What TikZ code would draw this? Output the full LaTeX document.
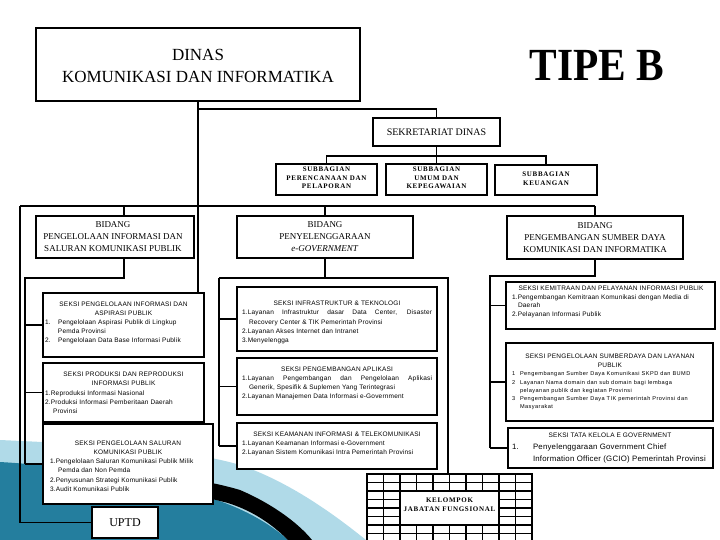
\documentclass[tikz,border=0pt]{standalone}
\usepackage{fontspec}
\setmainfont{Liberation Serif}
\newfontfamily\skf[LetterSpace=3]{Liberation Sans}
\newfontfamily\skfw[LetterSpace=8]{Liberation Sans}
\newfontfamily\sbf[LetterSpace=10]{Liberation Serif}
\definecolor{swl}{RGB}{176,218,232}
\definecolor{swd}{RGB}{36,126,158}
\newcommand{\sktext}[3]{\parbox{#1}{\skf\fontsize{6.5}{#2}\selectfont #3}}
\begin{document}
\begin{tikzpicture}[x=1pt,y=-1pt,
 ln/.style={line width=1.6pt},
 bx/.style={draw, line width=1.6pt, fill=white, inner sep=0pt, outer sep=0pt},
 tx/.style={inner sep=0pt, align=center},
 sbt/.style={tx, font=\sbf\bfseries\fontsize{7}{8.6}\selectfont},
 bdt/.style={tx, font=\fontsize{9}{12}\selectfont},
]
\useasboundingbox (0,0) rectangle (720,540);
\clip (0,0) rectangle (720,540);
% background swoosh
\fill[swl] (0,440) .. controls (110,445) and (190,450) .. (240,465) .. controls (290,482) and (335,515) .. (366,540) -- (0,540) -- cycle;
\fill[swd] (0,462) .. controls (100,468) and (180,485) .. (230,505) .. controls (255,515) and (275,528) .. (288,540) -- (0,540) -- cycle;
\fill[black] (60,478) .. controls (140,470) and (200,478) .. (240,490) .. controls (275,505) and (300,525) .. (312,540) -- (288,540) .. controls (270,522) and (250,510) .. (228,503) .. controls (180,490) and (120,485) .. (60,478) -- cycle;
% top
\node[bx, minimum width=324pt, minimum height=73pt] (dinas) at (198,64.5) {};
\node[tx, font=\fontsize{17}{22}\selectfont] (dinast) at (198,66) {DINAS\\KOMUNIKASI DAN INFORMATIKA};
\node[tx, font=\bfseries\fontsize{46}{46}\selectfont] (tipe) at (597,66) {\scalebox{0.9}[1]{TIPE B}};
\node[bx, minimum width=127pt, minimum height=28pt] (sek) at (436.5,132) {};
\node[tx, font=\fontsize{10}{12}\selectfont] (sekt) at (436.5,132) {SEKRETARIAT DINAS};
\node[bx, minimum width=101pt, minimum height=31pt] (sb1) at (326.5,179.5) {};
\node[sbt] (sb1t) at (326.5,178) {SUBBAGIAN\\PERENCANAAN DAN\\PELAPORAN};
\node[bx, minimum width=101pt, minimum height=31pt] (sb2) at (436.5,179.5) {};
\node[sbt] (sb2t) at (436.5,178) {SUBBAGIAN\\UMUM DAN\\KEPEGAWAIAN};
\node[bx, minimum width=102pt, minimum height=30pt] (sb3) at (546,180) {};
\node[sbt] (sb3t) at (546,179) {SUBBAGIAN\\KEUANGAN};
% bidang
\node[bx, minimum width=158pt, minimum height=42pt] (b1) at (115,237) {};
\node[bdt] (b1t) at (113,237) {BIDANG\\PENGELOLAAN INFORMASI DAN\\SALURAN KOMUNIKASI PUBLIK};
\node[bx, minimum width=176pt, minimum height=42pt] (b2) at (325,237) {};
\node[bdt] (b2t) at (325,237) {BIDANG\\PENYELENGGARAAN\\\textit{e-GOVERNMENT}};
\node[bx, minimum width=176pt, minimum height=43pt] (b3) at (595,237.5) {};
\node[bdt] (b3t) at (595,237.5) {BIDANG\\PENGEMBANGAN SUMBER DAYA\\KOMUNIKASI DAN INFORMATIKA};
% left seksi
\node[bx, minimum width=161pt, minimum height=64pt] (L1) at (123.5,325) {};
\node[tx] (L1t) at (123.5,323) {\sktext{157pt}{9.2}{{\centering SEKSI PENGELOLAAN INFORMASI DAN\\ASPIRASI PUBLIK\par}\raggedright
\makebox[13pt][l]{1.}Pengelolaan Aspirasi Publik di Lingkup\\
\hspace*{13pt}Pemda Provinsi\\
\makebox[13pt][l]{2.}Pengelolaan Data Base Informasi Publik}};
\node[bx, minimum width=161pt, minimum height=59pt] (L2) at (123.5,392.5) {};
\node[tx] (L2t) at (123.5,393) {\sktext{157pt}{9.3}{{\centering SEKSI PRODUKSI DAN REPRODUKSI\\INFORMASI PUBLIK\par}\raggedright
1.Reproduksi Informasi Nasional\\
2.Produksi Informasi Pemberitaan Daerah\\
\hspace*{8pt}Provinsi}};
\node[bx, minimum width=170pt, minimum height=80pt] (L3) at (128,464) {};
\node[tx] (L3t) at (128,466) {\sktext{156pt}{9.2}{{\centering SEKSI PENGELOLAAN SALURAN\\KOMUNIKASI PUBLIK\par}\raggedright
1.Pengelolaan Saluran Komunikasi Publik Milik\\
\hspace*{8pt}Pemda dan Non Pemda\\
2.Penyusunan Strategi Komunikasi Publik\\
3.Audit Komunikasi Publik}};
\node[bx, minimum width=66pt, minimum height=31pt] (uptd) at (125,522.5) {};
\node[tx, font=\fontsize{12}{14}\selectfont] (uptdt) at (125,523) {UPTD};
% middle seksi
\node[bx, minimum width=200pt, minimum height=64pt] (M1) at (337,319) {};
\node[tx] (M1t) at (337,322.5) {\sktext{190pt}{9.3}{{\centering SEKSI INFRASTRUKTUR \& TEKNOLOGI\par}\raggedright
\makebox[\linewidth][s]{1.Layanan Infrastruktur dasar Data Center, Disaster}\\
\hspace*{7pt}Recovery Center \& TIK Pemerintah Provinsi\\
2.Layanan Akses Internet dan Intranet\\
3.Menyelengga}};
\node[bx, minimum width=200pt, minimum height=57pt] (M2) at (337,386.5) {};
\node[tx] (M2t) at (337,383.5) {\sktext{190pt}{9.2}{{\centering SEKSI PENGEMBANGAN APLIKASI\par}\raggedright
\makebox[\linewidth][s]{1.Layanan Pengembangan dan Pengelolaan Aplikasi}\\
\hspace*{7pt}Generik, Spesifik \& Suplemen Yang Terintegrasi\\
2.Layanan Manajemen Data Informasi e-Government}};
\node[bx, minimum width=200pt, minimum height=46pt] (M3) at (337,446) {};
\node[tx] (M3t) at (337,444) {\sktext{190pt}{9.2}{{\centering SEKSI KEAMANAN INFORMASI \& TELEKOMUNIKASI\par}\raggedright
1.Layanan Keamanan Informasi e-Government\\
2.Layanan Sistem Komunikasi Intra Pemerintah Provinsi}};
% kelompok
\node[bx, minimum width=165pt, minimum height=80pt, anchor=north] (kel) at (449.5,474) {};
\foreach \i in {1,...,9} \draw[ln] (367+16.5*\i,474) -- (367+16.5*\i,545);
\foreach \j in {1,...,8} \draw[ln] (367,474+8.5*\j) -- (532,474+8.5*\j);
\node[bx, minimum width=99pt, minimum height=34pt] (kelb) at (449.5,508) {};
\node[sbt] (kelt) at (449.5,505) {KELOMPOK\\JABATAN FUNGSIONAL};
% right seksi
\node[bx, minimum width=209pt, minimum height=47pt] (R1) at (610.5,305.5) {};
\node[tx] (R1t) at (611,302) {\sktext{198pt}{8.8}{{\centering SEKSI KEMITRAAN DAN PELAYANAN INFORMASI PUBLIK\par}\raggedright
1.Pengembangan Kemitraan Komunikasi dengan Media di\\
\hspace*{6pt}Daerah\\
2.Pelayanan Informasi Publik}};
\node[bx, minimum width=207pt, minimum height=78pt] (R2) at (609.5,382) {};
\node[tx] (R2t) at (610,382) {\sktext{196pt}{9}{{\centering SEKSI PENGELOLAAN SUMBERDAYA DAN LAYANAN\\PUBLIK\par}\raggedright
{\skfw\fontsize{5.6}{8.2}\selectfont
\makebox[8pt][l]{1}Pengembangan Sumber Daya Komunikasi SKPD dan BUMD\\
\makebox[8pt][l]{2}Layanan Nama domain dan sub domain bagi lembaga\\
\hspace*{8pt}pelayanan publik dan kegiatan Provinsi\\
\makebox[8pt][l]{3}Pengembangan Sumber Daya TIK pemerintah Provinsi dan\\
\hspace*{8pt}Masyarakat\par}}};
\node[bx, minimum width=205pt, minimum height=40pt] (R3) at (610.5,448) {};
\node[tx] (R3t) at (610,448.5) {\sktext{196pt}{11}{{\centering SEKSI TATA KELOLA E GOVERNMENT\par}\raggedright
{\fontsize{7.8}{12}\selectfont\makebox[21pt][l]{1.}Penyelenggaraan Government Chief\\
\hspace*{21pt}Information Officer (GCIO) Pemerintah Provinsi\par}}};
% connectors
\coordinate (tk1) at (198,109);
\coordinate (trunkend) at (198,292);
\coordinate (busL) at (20,206);
\coordinate (busR) at (594.5,206);
\coordinate (sbl) at (326.5,156);
\coordinate (sbr) at (546,156);
\coordinate (lsp) at (25,278);
\coordinate (msp) at (219,278);
\coordinate (mk) at (448,278);
\coordinate (rsp) at (490,276);
\draw[ln] (dinas.south) -- (trunkend);
\draw[ln] (tk1) -| (sek.north);
\draw[ln] (sek.south) -- (sb2.north);
\draw[ln] (sb1.north) -- (sbl) -- (sbr) -- (sb3.north);
\draw[ln] (busL) -- (busR);
\draw[ln] ([xshift=9pt]b1.north) -- ([xshift=9pt]b1.north |- busL);
\draw[ln] (b2.north) -- (b2.north |- busL);
\draw[ln] (b3.north) -- (b3.north |- busL);
\draw[ln] (busL) |- (uptd.west);
\draw[ln] ([xshift=9pt]b1.south) |- (lsp) -- (lsp |- L3.west);
\foreach \n in {L1,L2,L3} \draw[ln] (\n.west) -- (\n.west -| lsp);
\draw[ln] (b2.south) -- (b2.south |- msp);
\draw[ln] (msp) -- (mk) -- (mk |- kel.north);
\draw[ln] (msp) -- (msp |- M3.west);
\foreach \n in {M1,M2,M3} \draw[ln] (\n.west) -- (\n.west -| msp);
\draw[ln] (b3.south) |- (rsp) -- (rsp |- R3.west);
\foreach \n in {R1,R2,R3} \draw[ln] (\n.west) -- (\n.west -| rsp);
\end{tikzpicture}
\end{document}
